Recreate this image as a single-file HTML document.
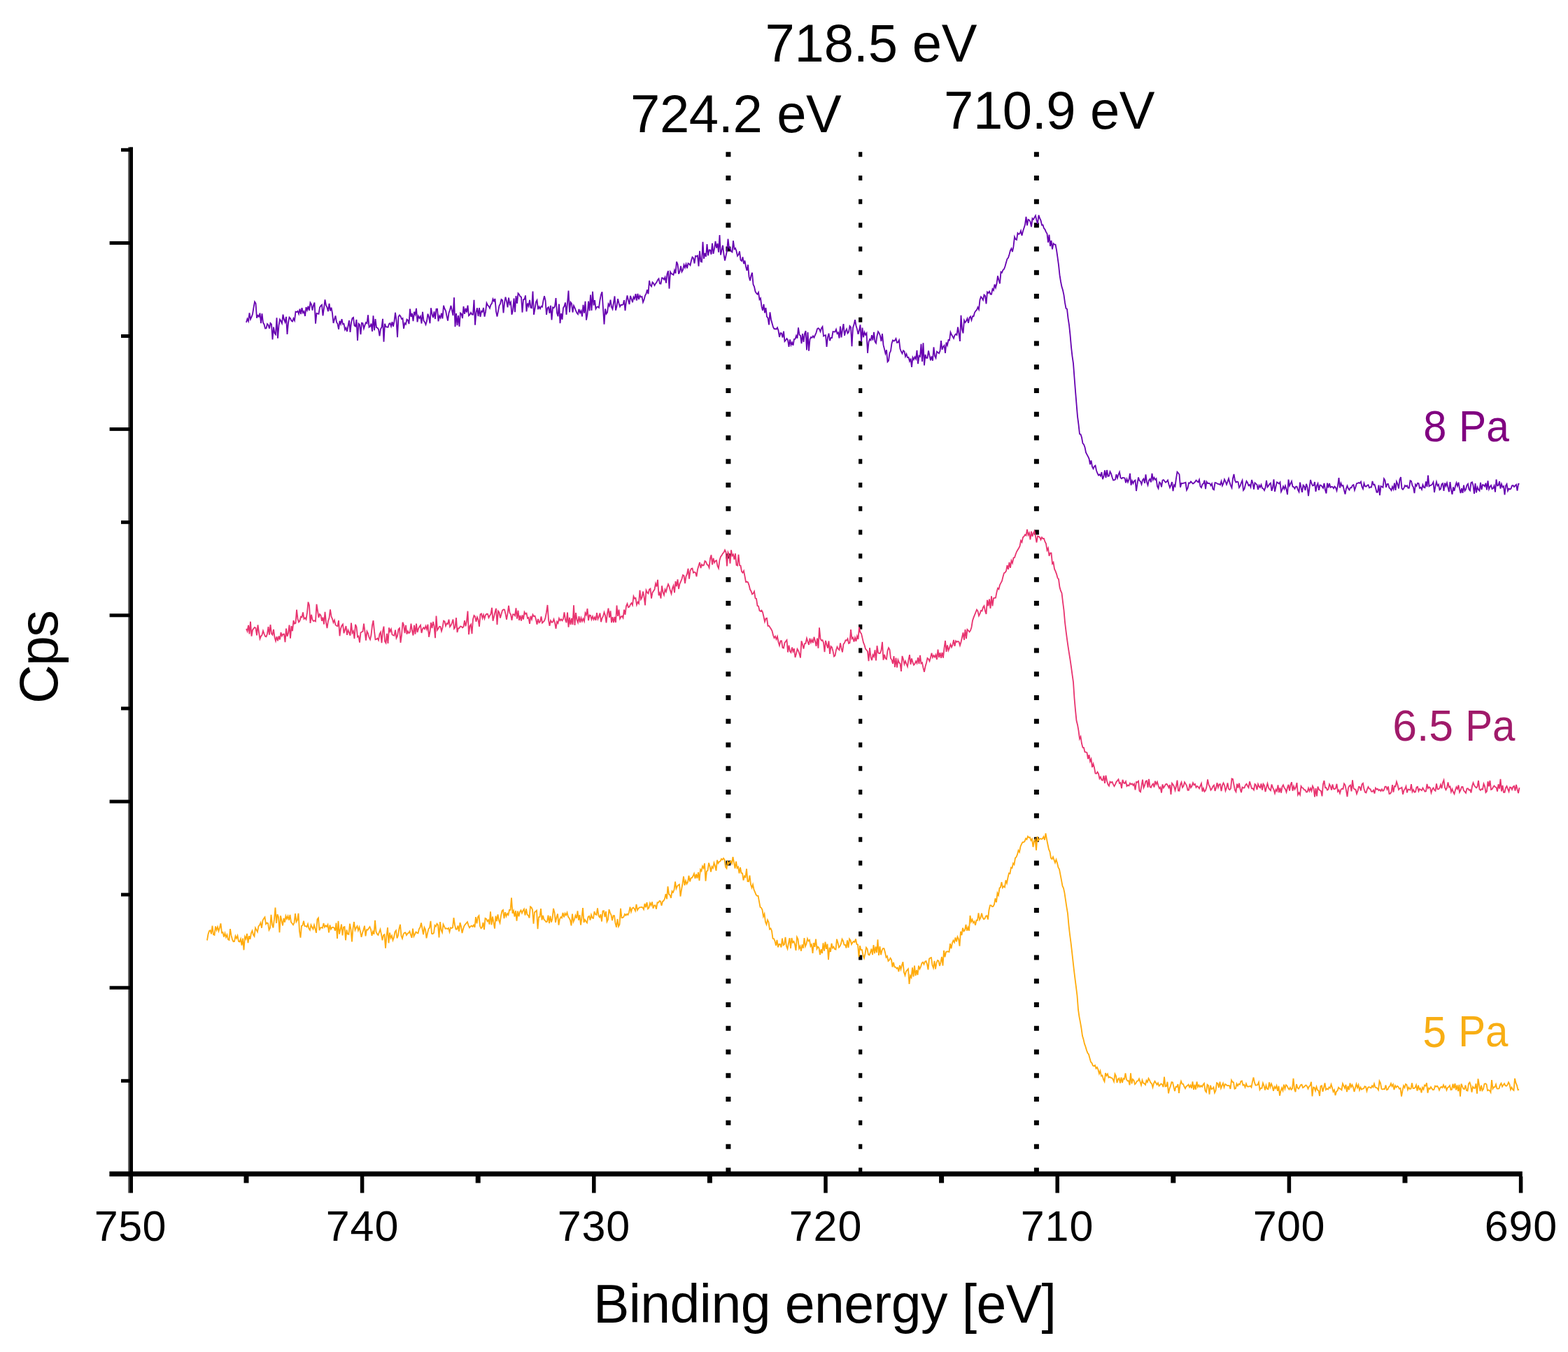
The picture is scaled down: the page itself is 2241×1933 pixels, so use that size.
<!DOCTYPE html>
<html><head><meta charset="utf-8"><title>XPS Fe 2p</title>
<style>
html,body{margin:0;padding:0;background:#fff;overflow:hidden;}
svg{display:block;}
text{font-family:"Liberation Sans",Arial,sans-serif;}
.t{font-size:64px;fill:#000;}
.b{font-size:77px;fill:#000;}
.l{font-size:63.5px;}
</style></head>
<body>
<svg width="2241" height="1933" viewBox="0 0 2241 1933">
<rect width="2241" height="1933" fill="#fff"/>
<rect x="183.00" y="210.30" width="1.80" height="1495.30" fill="#5f5f5f"/>
<rect x="184.80" y="210.30" width="5.20" height="1495.30" fill="#000"/>
<rect x="156.40" y="1674.80" width="2019.40" height="7.20" fill="#000"/>
<rect x="173.00" y="1542.80" width="12.00" height="5.00" fill="#000"/>
<rect x="156.60" y="1409.70" width="28.40" height="5.00" fill="#000"/>
<rect x="173.00" y="1276.60" width="12.00" height="5.00" fill="#000"/>
<rect x="156.60" y="1143.50" width="28.40" height="5.00" fill="#000"/>
<rect x="173.00" y="1010.40" width="12.00" height="5.00" fill="#000"/>
<rect x="156.60" y="877.30" width="28.40" height="5.00" fill="#000"/>
<rect x="173.00" y="744.20" width="12.00" height="5.00" fill="#000"/>
<rect x="156.60" y="611.10" width="28.40" height="5.00" fill="#000"/>
<rect x="173.00" y="478.00" width="12.00" height="5.00" fill="#000"/>
<rect x="156.60" y="344.90" width="28.40" height="5.00" fill="#000"/>
<rect x="173.00" y="211.80" width="12.00" height="5.00" fill="#000"/>
<rect x="348.50" y="1682.00" width="7.00" height="9.40" fill="#000"/>
<rect x="514.85" y="1682.00" width="5.50" height="23.60" fill="#000"/>
<rect x="679.70" y="1682.00" width="7.00" height="9.40" fill="#000"/>
<rect x="846.05" y="1682.00" width="5.50" height="23.60" fill="#000"/>
<rect x="1010.90" y="1682.00" width="7.00" height="9.40" fill="#000"/>
<rect x="1177.25" y="1682.00" width="5.50" height="23.60" fill="#000"/>
<rect x="1342.10" y="1682.00" width="7.00" height="9.40" fill="#000"/>
<rect x="1508.45" y="1682.00" width="5.50" height="23.60" fill="#000"/>
<rect x="1673.30" y="1682.00" width="7.00" height="9.40" fill="#000"/>
<rect x="1839.65" y="1682.00" width="5.50" height="23.60" fill="#000"/>
<rect x="2004.50" y="1682.00" width="7.00" height="9.40" fill="#000"/>
<rect x="2170.85" y="1682.00" width="5.50" height="23.60" fill="#000"/>
<line x1="1040.9" y1="217.3" x2="1040.9" y2="1675" stroke="#000" stroke-width="7" stroke-dasharray="7 26.77"/>
<line x1="1229.7" y1="217.3" x2="1229.7" y2="1675" stroke="#000" stroke-width="5.2" stroke-dasharray="7 26.77"/>
<line x1="1481.4" y1="217.3" x2="1481.4" y2="1675" stroke="#000" stroke-width="7" stroke-dasharray="7 26.77"/>
<path d="M352.0,461.1 353.5,455.8 355.0,459.2 356.5,447.3 358.0,456.4 359.5,453.2 361.0,449.0 362.5,439.9 364.0,431.4 365.5,433.8 367.0,454.8 368.5,450.9 370.0,452.6 371.5,447.7 373.0,462.1 374.5,448.4 376.0,461.3 377.5,463.7 379.0,469.6 380.5,469.5 382.0,463.1 383.5,464.8 385.0,469.7 386.5,461.9 388.0,463.6 389.5,485.5 391.0,467.6 392.5,476.7 394.0,478.3 395.5,454.4 397.0,483.7 398.5,465.2 400.0,456.6 401.5,459.0 403.0,462.2 404.5,449.6 406.0,456.9 407.5,460.5 409.0,452.8 410.5,477.9 412.0,461.5 413.5,453.6 415.0,455.3 416.5,458.7 418.0,459.6 419.5,455.2 421.0,458.3 422.5,445.5 424.0,446.2 425.5,444.8 427.0,448.8 428.5,441.8 430.0,449.0 431.5,440.1 433.0,447.2 434.5,445.1 436.0,452.0 437.5,439.2 439.0,443.6 440.5,437.8 442.0,444.0 443.5,432.7 445.0,435.1 446.5,443.7 448.0,436.5 449.5,432.6 451.0,462.6 452.5,447.9 454.0,448.4 455.5,448.8 457.0,439.5 458.5,437.2 460.0,435.9 461.5,451.4 463.0,440.4 464.5,428.4 466.0,436.7 467.5,439.4 469.0,445.2 470.5,434.0 472.0,444.4 473.5,439.7 475.0,447.8 476.5,461.9 478.0,456.5 479.5,451.5 481.0,460.4 482.5,463.0 484.0,470.8 485.5,458.8 487.0,463.2 488.5,456.1 490.0,463.5 491.5,462.9 493.0,471.3 494.5,468.6 496.0,473.9 497.5,466.0 499.0,458.2 500.5,474.9 502.0,461.1 503.5,455.0 505.0,453.9 506.5,465.6 508.0,466.6 509.5,457.0 511.0,487.0 512.5,462.7 514.0,464.2 515.5,478.2 517.0,461.6 518.5,462.1 520.0,469.6 521.5,464.9 523.0,461.0 524.5,462.3 526.0,450.4 527.5,467.8 529.0,466.6 530.5,462.6 532.0,473.9 533.5,451.3 535.0,472.3 536.5,456.1 538.0,468.3 539.5,468.7 541.0,470.9 542.5,480.3 544.0,470.5 545.5,467.8 547.0,455.8 548.5,488.6 550.0,462.7 551.5,467.2 553.0,467.5 554.5,467.9 556.0,463.1 557.5,462.2 559.0,466.6 560.5,460.2 562.0,466.7 563.5,459.4 565.0,446.9 566.5,458.1 568.0,482.1 569.5,452.8 571.0,450.5 572.5,452.3 574.0,456.2 575.5,455.1 577.0,469.8 578.5,461.9 580.0,463.6 581.5,456.6 583.0,457.7 584.5,463.1 586.0,441.5 587.5,452.9 589.0,448.1 590.5,459.2 592.0,445.9 593.5,449.8 595.0,440.9 596.5,460.4 598.0,451.8 599.5,454.9 601.0,452.3 602.5,462.5 604.0,445.9 605.5,458.6 607.0,460.5 608.5,464.1 610.0,459.1 611.5,448.7 613.0,453.3 614.5,462.3 616.0,440.3 617.5,449.2 619.0,454.1 620.5,445.4 622.0,456.0 623.5,441.9 625.0,441.8 626.5,459.4 628.0,451.7 629.5,454.4 631.0,447.8 632.5,455.5 634.0,436.9 635.5,441.5 637.0,444.2 638.5,451.8 640.0,458.6 641.5,447.4 643.0,443.3 644.5,437.0 646.0,444.0 647.5,451.1 649.0,425.2 650.5,467.3 652.0,448.1 653.5,465.1 655.0,451.1 656.5,466.9 658.0,447.5 659.5,448.7 661.0,455.1 662.5,438.0 664.0,448.9 665.5,440.7 667.0,446.6 668.5,436.7 670.0,451.3 671.5,449.8 673.0,446.9 674.5,449.6 676.0,449.7 677.5,428.7 679.0,464.7 680.5,446.4 682.0,440.3 683.5,452.2 685.0,440.0 686.5,453.0 688.0,444.8 689.5,445.9 691.0,440.0 692.5,452.7 694.0,445.9 695.5,433.3 697.0,436.5 698.5,437.8 700.0,440.6 701.5,435.7 703.0,433.9 704.5,427.5 706.0,430.6 707.5,427.1 709.0,445.2 710.5,452.6 712.0,444.8 713.5,437.0 715.0,434.4 716.5,428.1 718.0,429.2 719.5,447.5 721.0,432.8 722.5,424.7 724.0,430.6 725.5,439.3 727.0,425.6 728.5,434.9 730.0,432.1 731.5,449.8 733.0,443.9 734.5,426.6 736.0,446.1 737.5,423.1 739.0,434.0 740.5,419.4 742.0,421.0 743.5,424.1 745.0,424.6 746.5,446.7 748.0,428.2 749.5,427.9 751.0,422.4 752.5,445.4 754.0,433.6 755.5,437.8 757.0,428.8 758.5,439.9 760.0,440.3 761.5,416.6 763.0,449.9 764.5,441.4 766.0,431.9 767.5,429.1 769.0,442.3 770.5,438.4 772.0,441.4 773.5,438.0 775.0,438.8 776.5,429.7 778.0,423.2 779.5,429.3 781.0,450.0 782.5,440.3 784.0,439.1 785.5,447.9 787.0,436.8 788.5,457.4 790.0,439.5 791.5,440.3 793.0,438.0 794.5,426.0 796.0,447.3 797.5,452.3 799.0,434.7 800.5,462.1 802.0,448.2 803.5,456.8 805.0,440.2 806.5,437.8 808.0,432.6 809.5,449.9 811.0,432.5 812.5,415.6 814.0,446.5 815.5,431.9 817.0,434.0 818.5,446.7 820.0,437.1 821.5,440.2 823.0,444.2 824.5,447.6 826.0,449.3 827.5,441.9 829.0,447.2 830.5,444.2 832.0,452.5 833.5,435.9 835.0,447.6 836.5,430.8 838.0,457.7 839.5,449.4 841.0,430.7 842.5,444.4 844.0,421.6 845.5,443.9 847.0,416.7 848.5,436.7 850.0,429.1 851.5,441.6 853.0,439.0 854.5,438.5 856.0,439.9 857.5,429.0 859.0,421.3 860.5,417.4 862.0,441.4 863.5,463.6 865.0,441.5 866.5,448.8 868.0,446.7 869.5,434.7 871.0,437.5 872.5,428.6 874.0,438.9 875.5,442.0 877.0,432.9 878.5,423.5 880.0,443.7 881.5,437.8 883.0,427.3 884.5,433.4 886.0,438.5 887.5,435.8 889.0,436.1 890.5,435.4 892.0,429.2 893.5,444.1 895.0,430.4 896.5,422.4 898.0,429.8 899.5,435.1 901.0,422.9 902.5,427.6 904.0,432.3 905.5,424.6 907.0,427.3 908.5,420.2 910.0,429.7 911.5,419.9 913.0,428.0 914.5,422.6 916.0,424.7 917.5,424.0 919.0,432.1 920.5,428.4 922.0,422.6 923.5,419.9 925.0,414.2 926.5,420.3 928.0,401.3 929.5,407.7 931.0,409.6 932.5,403.5 934.0,405.1 935.5,408.1 937.0,405.4 938.5,403.5 940.0,400.2 941.5,398.4 943.0,405.4 944.5,405.7 946.0,397.2 947.5,397.5 949.0,399.6 950.5,396.2 952.0,404.6 953.5,391.6 955.0,387.2 956.5,412.8 958.0,388.7 959.5,391.2 961.0,391.9 962.5,393.0 964.0,386.3 965.5,390.9 967.0,374.2 968.5,377.7 970.0,391.7 971.5,388.0 973.0,380.4 974.5,388.6 976.0,386.0 977.5,378.6 979.0,382.6 980.5,377.6 982.0,383.5 983.5,376.5 985.0,377.5 986.5,379.3 988.0,372.6 989.5,367.6 991.0,368.9 992.5,376.5 994.0,366.0 995.5,366.6 997.0,365.6 998.5,380.6 1000.0,358.9 1001.5,373.9 1003.0,374.4 1004.5,345.9 1006.0,369.9 1007.5,361.9 1009.0,366.9 1010.5,349.0 1012.0,365.4 1013.5,357.3 1015.0,357.6 1016.5,363.7 1018.0,347.8 1019.5,362.8 1021.0,355.6 1022.5,345.0 1024.0,354.6 1025.5,348.1 1027.0,360.7 1028.5,336.0 1030.0,364.5 1031.5,357.9 1033.0,350.8 1034.5,363.6 1036.0,372.5 1037.5,365.7 1039.0,358.8 1040.5,341.6 1042.0,354.4 1043.5,354.7 1045.0,359.4 1046.5,360.4 1048.0,344.0 1049.5,356.0 1051.0,354.8 1052.5,359.0 1054.0,366.0 1055.5,364.1 1057.0,359.3 1058.5,371.9 1060.0,373.2 1061.5,367.5 1063.0,377.1 1064.5,372.6 1066.0,381.2 1067.5,386.9 1069.0,378.5 1070.5,395.7 1072.0,401.3 1073.5,394.1 1075.0,389.8 1076.5,406.7 1078.0,409.8 1079.5,416.8 1081.0,419.3 1082.5,420.7 1084.0,418.0 1085.5,428.2 1087.0,426.4 1088.5,438.2 1090.0,443.9 1091.5,434.8 1093.0,447.3 1094.5,440.0 1096.0,452.9 1097.5,454.5 1099.0,464.3 1100.5,446.4 1102.0,456.7 1103.5,462.2 1105.0,467.7 1106.5,470.2 1108.0,470.1 1109.5,470.7 1111.0,468.4 1112.5,472.8 1114.0,481.9 1115.5,476.1 1117.0,476.5 1118.5,482.6 1120.0,473.7 1121.5,488.0 1123.0,486.3 1124.5,484.1 1126.0,486.2 1127.5,495.8 1129.0,485.4 1130.5,493.3 1132.0,489.5 1133.5,493.8 1135.0,484.8 1136.5,484.6 1138.0,479.9 1139.5,483.6 1141.0,468.4 1142.5,478.8 1144.0,479.7 1145.5,491.2 1147.0,477.0 1148.5,488.9 1150.0,477.1 1151.5,473.1 1153.0,500.5 1154.5,475.1 1156.0,501.6 1157.5,485.2 1159.0,482.1 1160.5,482.9 1162.0,480.4 1163.5,482.6 1165.0,479.0 1166.5,475.8 1168.0,470.2 1169.5,469.1 1171.0,470.5 1172.5,474.1 1174.0,469.3 1175.5,467.1 1177.0,480.5 1178.5,479.5 1180.0,479.2 1181.5,495.9 1183.0,482.1 1184.5,476.7 1186.0,487.2 1187.5,483.0 1189.0,483.0 1190.5,474.1 1192.0,474.4 1193.5,474.5 1195.0,470.9 1196.5,476.9 1198.0,475.3 1199.5,483.5 1201.0,466.7 1202.5,482.3 1204.0,471.2 1205.5,463.1 1207.0,479.9 1208.5,473.2 1210.0,470.4 1211.5,476.6 1213.0,474.7 1214.5,466.1 1216.0,467.8 1217.5,495.3 1219.0,468.7 1220.5,464.1 1222.0,457.2 1223.5,465.7 1225.0,470.6 1226.5,477.8 1228.0,472.1 1229.5,464.3 1231.0,488.8 1232.5,468.5 1234.0,482.2 1235.5,474.9 1237.0,478.7 1238.5,476.3 1240.0,504.8 1241.5,489.3 1243.0,484.9 1244.5,486.4 1246.0,479.2 1247.5,486.5 1249.0,474.9 1250.5,488.5 1252.0,490.7 1253.5,480.2 1255.0,474.2 1256.5,476.3 1258.0,480.2 1259.5,488.0 1261.0,477.1 1262.5,493.2 1264.0,499.1 1265.5,505.4 1267.0,500.3 1268.5,517.3 1270.0,515.5 1271.5,504.7 1273.0,501.8 1274.5,491.0 1276.0,486.5 1277.5,487.6 1279.0,486.8 1280.5,484.1 1282.0,489.8 1283.5,489.4 1285.0,486.4 1286.5,498.8 1288.0,502.7 1289.5,505.5 1291.0,501.2 1292.5,502.5 1294.0,509.7 1295.5,506.2 1297.0,511.2 1298.5,510.9 1300.0,516.4 1301.5,512.6 1303.0,524.8 1304.5,511.0 1306.0,514.0 1307.5,510.4 1309.0,513.2 1310.5,500.8 1312.0,520.2 1313.5,508.6 1315.0,509.8 1316.5,491.9 1318.0,516.9 1319.5,490.3 1321.0,522.5 1322.5,506.9 1324.0,511.9 1325.5,511.8 1327.0,501.4 1328.5,508.4 1330.0,515.2 1331.5,509.4 1333.0,515.7 1334.5,496.3 1336.0,508.9 1337.5,511.9 1339.0,502.7 1340.5,503.9 1342.0,505.2 1343.5,501.8 1345.0,487.1 1346.5,499.9 1348.0,495.8 1349.5,494.0 1351.0,504.9 1352.5,489.5 1354.0,493.7 1355.5,486.0 1357.0,486.6 1358.5,475.0 1360.0,478.6 1361.5,481.0 1363.0,483.8 1364.5,479.4 1366.0,477.6 1367.5,478.9 1369.0,467.7 1370.5,477.1 1372.0,488.0 1373.5,450.9 1375.0,470.6 1376.5,476.4 1378.0,458.0 1379.5,461.0 1381.0,458.9 1382.5,455.3 1384.0,461.7 1385.5,454.4 1387.0,452.4 1388.5,457.7 1390.0,452.1 1391.5,452.2 1393.0,446.8 1394.5,444.5 1396.0,443.0 1397.5,439.3 1399.0,442.5 1400.5,428.6 1402.0,424.3 1403.5,426.2 1405.0,428.9 1406.5,421.6 1408.0,423.0 1409.5,434.4 1411.0,417.6 1412.5,419.1 1414.0,416.7 1415.5,420.6 1417.0,420.7 1418.5,413.1 1420.0,415.0 1421.5,406.6 1423.0,411.3 1424.5,405.5 1426.0,394.4 1427.5,400.7 1429.0,405.5 1430.5,388.7 1432.0,389.6 1433.5,386.0 1435.0,384.7 1436.5,380.8 1438.0,375.2 1439.5,370.1 1441.0,368.5 1442.5,363.7 1444.0,358.2 1445.5,355.3 1447.0,360.0 1448.5,352.4 1450.0,338.7 1451.5,342.0 1453.0,342.8 1454.5,333.2 1456.0,334.9 1457.5,334.0 1459.0,330.0 1460.5,336.9 1462.0,330.5 1463.5,326.0 1465.0,321.3 1466.5,309.9 1468.0,322.4 1469.5,313.8 1471.0,314.6 1472.5,317.0 1474.0,324.4 1475.5,312.3 1477.0,313.8 1478.5,310.9 1480.0,308.3 1481.5,314.9 1483.0,319.9 1484.5,307.6 1486.0,312.0 1487.5,315.1 1489.0,321.8 1490.5,321.5 1492.0,326.4 1493.5,328.1 1495.0,331.6 1496.5,334.1 1498.0,346.6 1499.5,335.5 1501.0,352.0 1502.5,343.9 1504.0,356.3 1505.5,348.1 1507.0,349.7 1508.5,349.7 1510.0,357.3 1511.5,367.8 1513.0,378.8 1514.5,393.2 1516.0,402.5 1517.5,410.1 1519.0,414.7 1520.5,421.9 1522.0,432.7 1523.5,440.9 1525.0,441.7 1526.5,454.8 1528.0,464.5 1529.5,478.7 1531.0,496.0 1532.5,509.4 1534.0,519.7 1535.5,539.8 1537.0,559.1 1538.5,577.4 1540.0,595.3 1541.5,606.8 1543.0,620.5 1544.5,620.9 1546.0,625.5 1547.5,633.9 1549.0,635.4 1550.5,639.4 1552.0,646.9 1553.5,649.8 1555.0,652.6 1556.5,655.8 1558.0,664.0 1559.5,658.3 1561.0,667.1 1562.5,670.1 1564.0,666.9 1565.5,665.6 1567.0,672.8 1568.5,676.7 1570.0,679.5 1571.5,678.3 1573.0,680.6 1574.5,675.1 1576.0,685.1 1577.5,680.7 1579.0,672.3 1580.5,683.2 1582.0,672.0 1583.5,680.9 1585.0,680.5 1586.5,674.2 1588.0,677.1 1589.5,682.3 1591.0,686.6 1592.5,686.4 1594.0,685.5 1595.5,678.2 1597.0,683.5 1598.5,678.5 1600.0,674.9 1601.5,683.0 1603.0,684.3 1604.5,683.0 1606.0,683.2 1607.5,683.3 1609.0,690.2 1610.5,684.8 1612.0,689.3 1613.5,685.6 1615.0,676.9 1616.5,693.7 1618.0,687.4 1619.5,691.1 1621.0,687.7 1622.5,686.6 1624.0,702.0 1625.5,691.7 1627.0,682.4 1628.5,687.3 1630.0,688.3 1631.5,692.4 1633.0,686.3 1634.5,684.4 1636.0,690.8 1637.5,678.3 1639.0,689.2 1640.5,693.6 1642.0,686.6 1643.5,684.8 1645.0,689.4 1646.5,676.8 1648.0,686.0 1649.5,682.9 1651.0,686.0 1652.5,684.3 1654.0,695.3 1655.5,698.4 1657.0,689.3 1658.5,690.5 1660.0,696.4 1661.5,686.6 1663.0,686.0 1664.5,688.0 1666.0,689.7 1667.5,688.6 1669.0,686.6 1670.5,692.5 1672.0,697.2 1673.5,693.6 1675.0,689.1 1676.5,702.1 1678.0,693.2 1679.5,695.3 1681.0,683.9 1682.5,674.6 1684.0,676.2 1685.5,678.5 1687.0,696.8 1688.5,690.9 1690.0,691.3 1691.5,690.6 1693.0,690.4 1694.5,689.8 1696.0,700.6 1697.5,697.9 1699.0,690.4 1700.5,690.8 1702.0,688.5 1703.5,690.1 1705.0,691.6 1706.5,690.5 1708.0,688.9 1709.5,686.7 1711.0,688.1 1712.5,689.4 1714.0,685.8 1715.5,695.3 1717.0,697.2 1718.5,692.3 1720.0,691.4 1721.5,686.7 1723.0,699.1 1724.5,688.7 1726.0,691.0 1727.5,690.8 1729.0,691.2 1730.5,694.3 1732.0,691.4 1733.5,699.3 1735.0,700.2 1736.5,690.0 1738.0,690.3 1739.5,691.3 1741.0,692.1 1742.5,692.1 1744.0,693.3 1745.5,688.1 1747.0,694.4 1748.5,690.9 1750.0,685.4 1751.5,688.5 1753.0,692.6 1754.5,688.6 1756.0,684.1 1757.5,689.9 1759.0,694.3 1760.5,697.5 1762.0,683.9 1763.5,678.0 1765.0,686.9 1766.5,689.7 1768.0,688.6 1769.5,689.1 1771.0,697.1 1772.5,694.7 1774.0,690.3 1775.5,686.8 1777.0,701.0 1778.5,699.2 1780.0,692.8 1781.5,687.9 1783.0,690.2 1784.5,694.2 1786.0,693.0 1787.5,696.5 1789.0,686.1 1790.5,690.9 1792.0,699.5 1793.5,690.3 1795.0,691.7 1796.5,693.0 1798.0,700.1 1799.5,693.9 1801.0,696.7 1802.5,693.0 1804.0,697.9 1805.5,698.6 1807.0,701.1 1808.5,697.1 1810.0,687.0 1811.5,696.3 1813.0,694.4 1814.5,691.8 1816.0,690.6 1817.5,701.8 1819.0,697.3 1820.5,685.3 1822.0,702.9 1823.5,695.6 1825.0,689.4 1826.5,690.3 1828.0,691.6 1829.5,689.5 1831.0,703.0 1832.5,699.8 1834.0,695.4 1835.5,699.1 1837.0,694.6 1838.5,699.7 1840.0,707.1 1841.5,685.6 1843.0,694.6 1844.5,691.4 1846.0,688.1 1847.5,695.7 1849.0,696.2 1850.5,698.6 1852.0,695.6 1853.5,695.7 1855.0,700.4 1856.5,703.3 1858.0,689.7 1859.5,697.2 1861.0,703.9 1862.5,693.7 1864.0,695.3 1865.5,701.0 1867.0,691.8 1868.5,696.4 1870.0,709.1 1871.5,697.2 1873.0,686.1 1874.5,691.2 1876.0,694.4 1877.5,694.0 1879.0,689.1 1880.5,702.8 1882.0,694.4 1883.5,691.2 1885.0,700.8 1886.5,693.6 1888.0,693.9 1889.5,695.8 1891.0,697.8 1892.5,690.9 1894.0,700.6 1895.5,705.4 1897.0,690.7 1898.5,697.2 1900.0,691.1 1901.5,696.9 1903.0,695.9 1904.5,696.1 1906.0,698.3 1907.5,695.6 1909.0,697.2 1910.5,701.6 1912.0,694.4 1913.5,683.2 1915.0,697.5 1916.5,690.8 1918.0,694.8 1919.5,694.0 1921.0,700.8 1922.5,706.5 1924.0,698.5 1925.5,694.6 1927.0,698.6 1928.5,700.5 1930.0,697.2 1931.5,697.3 1933.0,693.8 1934.5,693.0 1936.0,700.7 1937.5,696.2 1939.0,691.0 1940.5,690.9 1942.0,690.1 1943.5,690.9 1945.0,688.7 1946.5,695.9 1948.0,698.9 1949.5,690.9 1951.0,695.2 1952.5,695.7 1954.0,693.9 1955.5,693.2 1957.0,697.4 1958.5,696.5 1960.0,696.5 1961.5,687.9 1963.0,693.2 1964.5,692.7 1966.0,697.5 1967.5,703.8 1969.0,703.6 1970.5,693.6 1972.0,708.1 1973.5,695.1 1975.0,695.7 1976.5,696.9 1978.0,684.4 1979.5,686.9 1981.0,696.8 1982.5,692.0 1984.0,691.9 1985.5,697.5 1987.0,698.8 1988.5,701.1 1990.0,696.0 1991.5,699.6 1993.0,690.7 1994.5,700.9 1996.0,688.6 1997.5,691.9 1999.0,698.5 2000.5,685.8 2002.0,682.2 2003.5,698.4 2005.0,699.9 2006.5,697.8 2008.0,694.0 2009.5,695.5 2011.0,694.2 2012.5,697.7 2014.0,697.6 2015.5,687.1 2017.0,687.9 2018.5,694.2 2020.0,696.6 2021.5,705.2 2023.0,692.7 2024.5,694.9 2026.0,690.7 2027.5,691.0 2029.0,698.0 2030.5,696.8 2032.0,699.8 2033.5,693.2 2035.0,696.7 2036.5,697.2 2038.0,688.5 2039.5,695.8 2041.0,679.7 2042.5,695.3 2044.0,694.1 2045.5,693.7 2047.0,692.3 2048.5,689.2 2050.0,704.0 2051.5,694.9 2053.0,688.9 2054.5,694.5 2056.0,692.8 2057.5,700.3 2059.0,699.1 2060.5,692.2 2062.0,691.1 2063.5,701.8 2065.0,690.5 2066.5,694.9 2068.0,690.4 2069.5,697.1 2071.0,703.2 2072.5,689.0 2074.0,700.7 2075.5,706.8 2077.0,696.5 2078.5,701.9 2080.0,695.1 2081.5,690.3 2083.0,695.0 2084.5,689.7 2086.0,698.4 2087.5,705.1 2089.0,698.3 2090.5,704.9 2092.0,693.7 2093.5,701.8 2095.0,699.6 2096.5,693.7 2098.0,691.9 2099.5,699.6 2101.0,701.4 2102.5,690.1 2104.0,689.3 2105.5,694.3 2107.0,706.0 2108.5,691.0 2110.0,704.3 2111.5,696.5 2113.0,699.9 2114.5,701.7 2116.0,689.8 2117.5,700.0 2119.0,693.1 2120.5,693.5 2122.0,695.4 2123.5,690.7 2125.0,700.3 2126.5,687.3 2128.0,699.4 2129.5,695.9 2131.0,694.0 2132.5,699.1 2134.0,698.2 2135.5,694.5 2137.0,703.5 2138.5,685.5 2140.0,694.4 2141.5,694.1 2143.0,688.1 2144.5,698.5 2146.0,692.0 2147.5,696.5 2149.0,695.2 2150.5,707.5 2152.0,694.5 2153.5,692.1 2155.0,701.8 2156.5,698.6 2158.0,699.6 2159.5,698.6 2161.0,694.4 2162.5,694.1 2164.0,696.1 2165.5,694.3 2167.0,692.9 2168.5,701.6 2170.0,692.0 2171.5,691.7" fill="none" stroke="#6600b0" stroke-width="1.8" stroke-linejoin="miter"/>
<path d="M352.0,899.0 353.5,902.5 355.0,893.8 356.5,906.3 358.0,888.7 359.5,909.7 361.0,900.6 362.5,898.7 364.0,897.0 365.5,898.0 367.0,908.3 368.5,893.5 370.0,904.1 371.5,913.4 373.0,909.6 374.5,907.9 376.0,901.9 377.5,906.3 379.0,909.8 380.5,910.4 382.0,906.2 383.5,896.1 385.0,907.7 386.5,893.0 388.0,906.0 389.5,907.8 391.0,899.8 392.5,911.1 394.0,916.4 395.5,910.1 397.0,916.4 398.5,909.4 400.0,914.4 401.5,904.2 403.0,909.3 404.5,906.6 406.0,906.6 407.5,918.1 409.0,898.6 410.5,909.9 412.0,905.1 413.5,893.5 415.0,912.7 416.5,895.2 418.0,902.2 419.5,887.1 421.0,891.8 422.5,891.0 424.0,871.7 425.5,884.9 427.0,889.4 428.5,887.5 430.0,881.7 431.5,882.5 433.0,875.5 434.5,884.8 436.0,883.3 437.5,885.5 439.0,875.9 440.5,860.7 442.0,865.5 443.5,890.9 445.0,878.8 446.5,885.9 448.0,888.0 449.5,887.3 451.0,888.3 452.5,863.9 454.0,873.3 455.5,883.0 457.0,878.1 458.5,879.8 460.0,887.8 461.5,882.6 463.0,892.5 464.5,874.9 466.0,889.9 467.5,898.2 469.0,887.9 470.5,883.5 472.0,871.3 473.5,881.3 475.0,884.8 476.5,890.0 478.0,886.6 479.5,893.4 481.0,894.8 482.5,895.3 484.0,887.1 485.5,909.3 487.0,898.6 488.5,894.5 490.0,892.5 491.5,905.3 493.0,900.4 494.5,895.1 496.0,907.8 497.5,901.0 499.0,904.4 500.5,908.7 502.0,890.6 503.5,904.9 505.0,902.2 506.5,913.2 508.0,892.8 509.5,896.2 511.0,910.6 512.5,909.6 514.0,918.6 515.5,904.5 517.0,903.5 518.5,902.8 520.0,891.6 521.5,903.3 523.0,915.6 524.5,902.6 526.0,905.6 527.5,911.3 529.0,914.3 530.5,907.8 532.0,894.1 533.5,887.1 535.0,902.4 536.5,914.4 538.0,913.9 539.5,912.6 541.0,915.3 542.5,906.5 544.0,903.8 545.5,919.1 547.0,902.9 548.5,895.6 550.0,917.0 551.5,919.3 553.0,905.8 554.5,920.0 556.0,897.4 557.5,903.0 559.0,899.6 560.5,907.5 562.0,908.2 563.5,908.8 565.0,900.6 566.5,912.4 568.0,909.2 569.5,899.7 571.0,898.1 572.5,919.0 574.0,908.2 575.5,889.7 577.0,893.5 578.5,905.2 580.0,893.8 581.5,906.7 583.0,902.5 584.5,905.3 586.0,903.7 587.5,891.6 589.0,901.8 590.5,908.5 592.0,893.9 593.5,906.6 595.0,891.6 596.5,904.1 598.0,898.9 599.5,895.9 601.0,893.9 602.5,905.0 604.0,899.1 605.5,897.3 607.0,899.4 608.5,895.0 610.0,899.7 611.5,892.7 613.0,910.8 614.5,903.3 616.0,890.2 617.5,898.1 619.0,888.9 620.5,895.1 622.0,912.1 623.5,880.6 625.0,900.8 626.5,898.6 628.0,895.7 629.5,896.0 631.0,902.3 632.5,897.3 634.0,887.6 635.5,888.4 637.0,894.8 638.5,891.3 640.0,892.2 641.5,885.7 643.0,896.2 644.5,894.0 646.0,890.5 647.5,885.6 649.0,898.9 650.5,896.9 652.0,883.2 653.5,904.1 655.0,898.3 656.5,898.0 658.0,895.4 659.5,895.7 661.0,897.5 662.5,896.1 664.0,887.2 665.5,895.3 667.0,888.1 668.5,873.7 670.0,907.1 671.5,895.1 673.0,892.8 674.5,906.1 676.0,885.5 677.5,880.0 679.0,881.4 680.5,888.7 682.0,882.4 683.5,886.1 685.0,895.8 686.5,878.4 688.0,877.5 689.5,883.9 691.0,879.0 692.5,884.4 694.0,879.3 695.5,877.8 697.0,877.9 698.5,883.1 700.0,880.3 701.5,878.0 703.0,868.9 704.5,887.8 706.0,881.8 707.5,875.3 709.0,869.9 710.5,893.1 712.0,873.7 713.5,875.6 715.0,883.6 716.5,877.9 718.0,872.8 719.5,871.4 721.0,871.5 722.5,877.7 724.0,885.8 725.5,877.2 727.0,865.8 728.5,876.1 730.0,878.6 731.5,886.9 733.0,878.3 734.5,878.3 736.0,880.2 737.5,869.4 739.0,884.7 740.5,872.8 742.0,886.9 743.5,880.0 745.0,887.6 746.5,879.4 748.0,885.5 749.5,875.1 751.0,877.8 752.5,876.7 754.0,884.0 755.5,883.0 757.0,891.9 758.5,880.9 760.0,885.4 761.5,878.7 763.0,881.2 764.5,880.6 766.0,885.5 767.5,892.8 769.0,885.0 770.5,890.2 772.0,888.8 773.5,881.5 775.0,890.7 776.5,889.2 778.0,887.6 779.5,883.2 781.0,875.2 782.5,865.0 784.0,886.4 785.5,894.9 787.0,887.2 788.5,889.8 790.0,889.5 791.5,885.3 793.0,890.2 794.5,898.8 796.0,888.8 797.5,891.0 799.0,884.0 800.5,887.3 802.0,885.2 803.5,887.4 805.0,884.9 806.5,875.3 808.0,886.1 809.5,890.3 811.0,875.5 812.5,896.6 814.0,882.8 815.5,893.2 817.0,883.8 818.5,893.1 820.0,865.2 821.5,893.9 823.0,876.1 824.5,886.1 826.0,890.1 827.5,881.2 829.0,890.1 830.5,883.5 832.0,888.3 833.5,884.7 835.0,888.3 836.5,876.3 838.0,879.2 839.5,870.2 841.0,887.2 842.5,879.5 844.0,880.0 845.5,885.6 847.0,881.3 848.5,885.7 850.0,882.4 851.5,886.9 853.0,876.2 854.5,885.1 856.0,881.8 857.5,876.5 859.0,889.2 860.5,883.8 862.0,881.0 863.5,875.3 865.0,879.8 866.5,890.3 868.0,877.2 869.5,869.6 871.0,882.8 872.5,873.4 874.0,890.2 875.5,882.2 877.0,890.2 878.5,882.0 880.0,890.0 881.5,865.6 883.0,880.8 884.5,871.7 886.0,884.6 887.5,881.9 889.0,880.8 890.5,883.5 892.0,871.6 893.5,878.9 895.0,866.6 896.5,863.1 898.0,868.2 899.5,867.6 901.0,864.1 902.5,862.2 904.0,865.2 905.5,852.5 907.0,855.8 908.5,855.1 910.0,864.8 911.5,860.8 913.0,863.0 914.5,843.9 916.0,856.8 917.5,854.1 919.0,845.6 920.5,852.9 922.0,865.5 923.5,843.9 925.0,847.1 926.5,848.5 928.0,842.7 929.5,841.6 931.0,855.7 932.5,847.2 934.0,844.9 935.5,842.8 937.0,834.4 938.5,838.7 940.0,828.8 941.5,851.3 943.0,847.6 944.5,855.6 946.0,837.5 947.5,846.7 949.0,850.7 950.5,842.7 952.0,846.0 953.5,839.7 955.0,835.2 956.5,838.6 958.0,844.6 959.5,848.9 961.0,840.9 962.5,837.2 964.0,847.3 965.5,831.2 967.0,838.3 968.5,828.4 970.0,842.2 971.5,834.5 973.0,831.4 974.5,827.8 976.0,822.1 977.5,823.1 979.0,834.2 980.5,824.2 982.0,820.4 983.5,812.8 985.0,827.6 986.5,816.2 988.0,813.0 989.5,812.6 991.0,818.9 992.5,818.0 994.0,818.6 995.5,824.3 997.0,814.2 998.5,809.0 1000.0,803.9 1001.5,812.2 1003.0,807.1 1004.5,808.7 1006.0,807.8 1007.5,802.1 1009.0,803.2 1010.5,807.1 1012.0,808.2 1013.5,811.6 1015.0,798.5 1016.5,793.4 1018.0,807.4 1019.5,797.9 1021.0,804.4 1022.5,801.9 1024.0,801.3 1025.5,809.2 1027.0,812.5 1028.5,800.7 1030.0,796.0 1031.5,794.1 1033.0,791.4 1034.5,789.8 1036.0,786.4 1037.5,789.6 1039.0,809.4 1040.5,789.7 1042.0,792.9 1043.5,805.7 1045.0,786.3 1046.5,794.6 1048.0,792.6 1049.5,800.0 1051.0,791.4 1052.5,808.0 1054.0,808.7 1055.5,792.9 1057.0,808.3 1058.5,808.8 1060.0,817.0 1061.5,818.9 1063.0,816.1 1064.5,823.8 1066.0,832.1 1067.5,831.8 1069.0,832.4 1070.5,836.6 1072.0,842.8 1073.5,845.2 1075.0,849.5 1076.5,848.5 1078.0,845.6 1079.5,855.4 1081.0,855.9 1082.5,866.1 1084.0,866.6 1085.5,873.1 1087.0,873.9 1088.5,872.7 1090.0,875.3 1091.5,881.8 1093.0,888.8 1094.5,884.2 1096.0,883.9 1097.5,894.9 1099.0,894.7 1100.5,897.0 1102.0,899.3 1103.5,902.0 1105.0,908.3 1106.5,912.1 1108.0,909.8 1109.5,914.0 1111.0,910.1 1112.5,918.0 1114.0,922.9 1115.5,916.4 1117.0,916.2 1118.5,926.0 1120.0,926.6 1121.5,919.2 1123.0,917.0 1124.5,915.1 1126.0,932.5 1127.5,922.7 1129.0,931.1 1130.5,933.0 1132.0,925.6 1133.5,931.4 1135.0,927.4 1136.5,939.9 1138.0,934.7 1139.5,927.8 1141.0,930.3 1142.5,934.7 1144.0,940.4 1145.5,916.4 1147.0,921.2 1148.5,927.6 1150.0,920.3 1151.5,919.8 1153.0,912.6 1154.5,917.3 1156.0,921.9 1157.5,912.7 1159.0,918.6 1160.5,914.7 1162.0,919.1 1163.5,910.7 1165.0,916.5 1166.5,923.8 1168.0,912.6 1169.5,926.8 1171.0,897.4 1172.5,913.2 1174.0,915.8 1175.5,915.2 1177.0,919.0 1178.5,932.1 1180.0,915.9 1181.5,921.6 1183.0,926.5 1184.5,916.5 1186.0,935.0 1187.5,924.1 1189.0,925.5 1190.5,930.9 1192.0,938.6 1193.5,937.2 1195.0,929.4 1196.5,924.9 1198.0,927.8 1199.5,929.3 1201.0,919.4 1202.5,926.8 1204.0,932.5 1205.5,921.0 1207.0,919.0 1208.5,915.3 1210.0,915.7 1211.5,913.2 1213.0,919.9 1214.5,919.1 1216.0,900.1 1217.5,913.2 1219.0,911.5 1220.5,917.6 1222.0,911.6 1223.5,916.9 1225.0,909.5 1226.5,914.0 1228.0,896.7 1229.5,904.2 1231.0,905.9 1232.5,912.1 1234.0,918.7 1235.5,922.2 1237.0,927.8 1238.5,929.3 1240.0,931.6 1241.5,945.1 1243.0,926.2 1244.5,939.4 1246.0,944.1 1247.5,936.2 1249.0,938.8 1250.5,929.3 1252.0,944.5 1253.5,923.2 1255.0,933.2 1256.5,934.2 1258.0,933.7 1259.5,929.6 1261.0,917.8 1262.5,943.7 1264.0,935.8 1265.5,941.5 1267.0,942.5 1268.5,930.5 1270.0,926.2 1271.5,928.9 1273.0,941.2 1274.5,943.3 1276.0,949.0 1277.5,938.1 1279.0,954.0 1280.5,940.5 1282.0,954.3 1283.5,943.6 1285.0,947.4 1286.5,948.7 1288.0,960.0 1289.5,937.9 1291.0,942.7 1292.5,949.7 1294.0,945.2 1295.5,949.3 1297.0,953.0 1298.5,943.5 1300.0,936.1 1301.5,950.0 1303.0,941.4 1304.5,946.9 1306.0,950.8 1307.5,949.1 1309.0,945.4 1310.5,948.3 1312.0,940.2 1313.5,949.1 1315.0,936.9 1316.5,948.5 1318.0,947.3 1319.5,954.9 1321.0,960.7 1322.5,952.8 1324.0,947.8 1325.5,940.9 1327.0,942.3 1328.5,945.3 1330.0,940.3 1331.5,933.7 1333.0,940.0 1334.5,937.1 1336.0,939.5 1337.5,936.1 1339.0,943.0 1340.5,928.7 1342.0,940.0 1343.5,933.2 1345.0,940.9 1346.5,932.8 1348.0,940.7 1349.5,926.6 1351.0,916.0 1352.5,931.8 1354.0,922.4 1355.5,929.9 1357.0,926.1 1358.5,921.3 1360.0,925.4 1361.5,921.9 1363.0,915.0 1364.5,923.9 1366.0,916.3 1367.5,917.8 1369.0,917.0 1370.5,917.7 1372.0,922.9 1373.5,918.0 1375.0,911.3 1376.5,904.5 1378.0,915.0 1379.5,900.0 1381.0,913.1 1382.5,900.0 1384.0,901.5 1385.5,903.5 1387.0,901.4 1388.5,896.7 1390.0,887.3 1391.5,882.9 1393.0,879.1 1394.5,875.5 1396.0,871.7 1397.5,873.8 1399.0,880.4 1400.5,877.3 1402.0,873.0 1403.5,873.5 1405.0,868.3 1406.5,866.2 1408.0,873.6 1409.5,877.9 1411.0,857.9 1412.5,866.4 1414.0,856.7 1415.5,870.0 1417.0,852.3 1418.5,866.3 1420.0,855.3 1421.5,854.8 1423.0,854.7 1424.5,846.6 1426.0,840.9 1427.5,842.3 1429.0,836.2 1430.5,833.4 1432.0,830.6 1433.5,824.5 1435.0,819.3 1436.5,818.5 1438.0,816.3 1439.5,808.2 1441.0,814.1 1442.5,803.8 1444.0,811.8 1445.5,801.5 1447.0,805.0 1448.5,797.5 1450.0,797.2 1451.5,792.8 1453.0,788.8 1454.5,786.2 1456.0,783.7 1457.5,780.9 1459.0,772.9 1460.5,775.2 1462.0,768.3 1463.5,766.9 1465.0,764.4 1466.5,765.6 1468.0,756.9 1469.5,764.9 1471.0,761.9 1472.5,771.5 1474.0,759.8 1475.5,767.1 1477.0,762.0 1478.5,759.4 1480.0,766.9 1481.5,775.7 1483.0,766.6 1484.5,767.1 1486.0,768.2 1487.5,771.7 1489.0,768.3 1490.5,770.1 1492.0,769.9 1493.5,774.5 1495.0,777.3 1496.5,786.8 1498.0,783.6 1499.5,795.0 1501.0,790.6 1502.5,790.7 1504.0,805.8 1505.5,803.9 1507.0,813.5 1508.5,816.7 1510.0,820.6 1511.5,826.2 1513.0,828.2 1514.5,839.5 1516.0,844.7 1517.5,848.0 1519.0,860.7 1520.5,872.4 1522.0,889.5 1523.5,902.2 1525.0,913.7 1526.5,924.1 1528.0,933.8 1529.5,943.1 1531.0,953.7 1532.5,964.7 1534.0,975.3 1535.5,998.2 1537.0,1015.3 1538.5,1030.3 1540.0,1036.2 1541.5,1044.6 1543.0,1056.4 1544.5,1053.2 1546.0,1063.1 1547.5,1068.7 1549.0,1069.1 1550.5,1075.2 1552.0,1075.4 1553.5,1076.1 1555.0,1085.0 1556.5,1079.2 1558.0,1088.6 1559.5,1085.1 1561.0,1097.1 1562.5,1092.0 1564.0,1097.4 1565.5,1105.8 1567.0,1106.1 1568.5,1103.8 1570.0,1106.4 1571.5,1113.2 1573.0,1110.9 1574.5,1115.3 1576.0,1115.7 1577.5,1109.0 1579.0,1119.9 1580.5,1108.6 1582.0,1116.4 1583.5,1121.6 1585.0,1123.6 1586.5,1117.6 1588.0,1118.9 1589.5,1117.9 1591.0,1121.4 1592.5,1124.2 1594.0,1121.4 1595.5,1117.8 1597.0,1116.1 1598.5,1114.2 1600.0,1120.1 1601.5,1119.0 1603.0,1127.1 1604.5,1114.9 1606.0,1119.3 1607.5,1120.0 1609.0,1117.2 1610.5,1123.9 1612.0,1122.5 1613.5,1123.5 1615.0,1119.7 1616.5,1121.6 1618.0,1120.4 1619.5,1122.9 1621.0,1120.7 1622.5,1129.3 1624.0,1118.1 1625.5,1118.4 1627.0,1116.8 1628.5,1130.8 1630.0,1132.2 1631.5,1123.3 1633.0,1114.7 1634.5,1126.3 1636.0,1122.9 1637.5,1116.9 1639.0,1116.3 1640.5,1125.8 1642.0,1113.9 1643.5,1125.0 1645.0,1125.9 1646.5,1122.5 1648.0,1120.7 1649.5,1125.6 1651.0,1116.7 1652.5,1121.3 1654.0,1118.0 1655.5,1123.5 1657.0,1127.3 1658.5,1125.5 1660.0,1133.5 1661.5,1121.4 1663.0,1126.3 1664.5,1124.0 1666.0,1121.3 1667.5,1120.9 1669.0,1123.0 1670.5,1126.2 1672.0,1122.1 1673.5,1135.9 1675.0,1119.8 1676.5,1121.7 1678.0,1124.4 1679.5,1130.0 1681.0,1124.1 1682.5,1115.6 1684.0,1130.4 1685.5,1130.7 1687.0,1121.7 1688.5,1118.4 1690.0,1125.8 1691.5,1123.9 1693.0,1118.2 1694.5,1120.6 1696.0,1123.3 1697.5,1129.8 1699.0,1129.6 1700.5,1120.6 1702.0,1126.1 1703.5,1123.8 1705.0,1119.1 1706.5,1122.3 1708.0,1121.1 1709.5,1125.9 1711.0,1124.0 1712.5,1125.1 1714.0,1127.3 1715.5,1123.5 1717.0,1120.1 1718.5,1131.6 1720.0,1127.2 1721.5,1131.8 1723.0,1130.1 1724.5,1125.1 1726.0,1114.4 1727.5,1121.9 1729.0,1124.7 1730.5,1129.7 1732.0,1127.9 1733.5,1124.2 1735.0,1122.7 1736.5,1130.9 1738.0,1126.4 1739.5,1119.3 1741.0,1125.9 1742.5,1121.3 1744.0,1121.2 1745.5,1131.1 1747.0,1122.8 1748.5,1119.5 1750.0,1122.7 1751.5,1130.6 1753.0,1126.5 1754.5,1119.4 1756.0,1127.8 1757.5,1129.2 1759.0,1127.2 1760.5,1113.2 1762.0,1113.8 1763.5,1122.3 1765.0,1129.6 1766.5,1132.1 1768.0,1120.7 1769.5,1126.5 1771.0,1119.8 1772.5,1128.0 1774.0,1133.1 1775.5,1125.5 1777.0,1126.5 1778.5,1126.4 1780.0,1122.4 1781.5,1120.8 1783.0,1123.7 1784.5,1126.0 1786.0,1117.3 1787.5,1122.5 1789.0,1127.4 1790.5,1127.3 1792.0,1129.4 1793.5,1121.1 1795.0,1122.5 1796.5,1129.0 1798.0,1121.1 1799.5,1124.7 1801.0,1126.2 1802.5,1120.4 1804.0,1129.6 1805.5,1120.9 1807.0,1123.2 1808.5,1132.1 1810.0,1125.6 1811.5,1120.3 1813.0,1126.3 1814.5,1128.6 1816.0,1130.1 1817.5,1121.5 1819.0,1125.9 1820.5,1129.1 1822.0,1134.2 1823.5,1128.8 1825.0,1131.1 1826.5,1122.5 1828.0,1133.0 1829.5,1126.4 1831.0,1133.6 1832.5,1124.8 1834.0,1122.3 1835.5,1126.3 1837.0,1128.3 1838.5,1132.6 1840.0,1126.2 1841.5,1121.8 1843.0,1130.6 1844.5,1122.3 1846.0,1118.2 1847.5,1130.7 1849.0,1124.3 1850.5,1128.5 1852.0,1125.7 1853.5,1119.2 1855.0,1136.3 1856.5,1133.4 1858.0,1136.4 1859.5,1124.1 1861.0,1126.3 1862.5,1126.9 1864.0,1129.4 1865.5,1129.4 1867.0,1132.5 1868.5,1132.3 1870.0,1126.8 1871.5,1131.1 1873.0,1127.0 1874.5,1130.9 1876.0,1123.8 1877.5,1126.9 1879.0,1139.4 1880.5,1127.1 1882.0,1138.4 1883.5,1124.5 1885.0,1128.7 1886.5,1130.0 1888.0,1131.0 1889.5,1138.4 1891.0,1121.2 1892.5,1116.1 1894.0,1126.2 1895.5,1126.1 1897.0,1129.6 1898.5,1128.4 1900.0,1121.3 1901.5,1124.2 1903.0,1129.6 1904.5,1121.4 1906.0,1127.8 1907.5,1128.3 1909.0,1127.0 1910.5,1120.8 1912.0,1131.6 1913.5,1129.6 1915.0,1134.2 1916.5,1128.8 1918.0,1127.6 1919.5,1128.1 1921.0,1120.3 1922.5,1122.3 1924.0,1129.9 1925.5,1139.2 1927.0,1126.4 1928.5,1123.6 1930.0,1122.6 1931.5,1131.3 1933.0,1115.4 1934.5,1126.9 1936.0,1128.7 1937.5,1128.7 1939.0,1134.9 1940.5,1130.9 1942.0,1124.8 1943.5,1125.3 1945.0,1130.4 1946.5,1121.4 1948.0,1119.9 1949.5,1128.0 1951.0,1132.6 1952.5,1133.5 1954.0,1128.4 1955.5,1125.1 1957.0,1127.8 1958.5,1128.1 1960.0,1131.7 1961.5,1131.8 1963.0,1129.7 1964.5,1134.6 1966.0,1126.6 1967.5,1128.6 1969.0,1127.9 1970.5,1130.1 1972.0,1129.0 1973.5,1131.1 1975.0,1128.4 1976.5,1130.9 1978.0,1129.6 1979.5,1124.6 1981.0,1124.7 1982.5,1128.7 1984.0,1124.5 1985.5,1134.9 1987.0,1134.6 1988.5,1132.3 1990.0,1122.1 1991.5,1132.6 1993.0,1123.9 1994.5,1124.5 1996.0,1117.6 1997.5,1122.2 1999.0,1129.0 2000.5,1127.2 2002.0,1127.0 2003.5,1125.9 2005.0,1135.7 2006.5,1130.0 2008.0,1127.9 2009.5,1124.3 2011.0,1133.3 2012.5,1128.4 2014.0,1129.0 2015.5,1129.7 2017.0,1121.1 2018.5,1132.1 2020.0,1129.2 2021.5,1132.7 2023.0,1132.2 2024.5,1125.7 2026.0,1124.9 2027.5,1131.2 2029.0,1127.9 2030.5,1129.1 2032.0,1130.1 2033.5,1126.5 2035.0,1129.1 2036.5,1131.6 2038.0,1131.2 2039.5,1120.9 2041.0,1127.0 2042.5,1125.3 2044.0,1126.5 2045.5,1133.4 2047.0,1128.5 2048.5,1126.5 2050.0,1129.5 2051.5,1130.7 2053.0,1120.5 2054.5,1128.3 2056.0,1128.4 2057.5,1126.5 2059.0,1121.9 2060.5,1127.2 2062.0,1119.0 2063.5,1115.4 2065.0,1125.9 2066.5,1129.3 2068.0,1126.5 2069.5,1118.5 2071.0,1125.4 2072.5,1124.4 2074.0,1132.2 2075.5,1128.1 2077.0,1132.5 2078.5,1135.1 2080.0,1129.6 2081.5,1125.2 2083.0,1128.1 2084.5,1122.6 2086.0,1132.6 2087.5,1129.7 2089.0,1125.0 2090.5,1124.9 2092.0,1130.4 2093.5,1131.9 2095.0,1133.7 2096.5,1127.6 2098.0,1127.2 2099.5,1129.7 2101.0,1129.2 2102.5,1133.4 2104.0,1124.0 2105.5,1119.1 2107.0,1122.9 2108.5,1125.0 2110.0,1126.5 2111.5,1124.7 2113.0,1116.0 2114.5,1128.3 2116.0,1129.9 2117.5,1128.0 2119.0,1128.7 2120.5,1120.6 2122.0,1124.1 2123.5,1133.0 2125.0,1131.4 2126.5,1117.3 2128.0,1124.4 2129.5,1116.0 2131.0,1129.0 2132.5,1128.4 2134.0,1125.6 2135.5,1123.5 2137.0,1125.3 2138.5,1125.7 2140.0,1131.5 2141.5,1121.3 2143.0,1127.6 2144.5,1113.8 2146.0,1131.3 2147.5,1123.0 2149.0,1132.8 2150.5,1132.8 2152.0,1126.4 2153.5,1124.0 2155.0,1128.1 2156.5,1131.8 2158.0,1125.5 2159.5,1125.8 2161.0,1128.9 2162.5,1124.9 2164.0,1123.8 2165.5,1130.6 2167.0,1121.9 2168.5,1128.4 2170.0,1134.0 2171.5,1126.1" fill="none" stroke="#e8336f" stroke-width="1.8" stroke-linejoin="miter"/>
<path d="M296.0,1344.5 297.5,1335.8 299.0,1331.0 300.5,1330.1 302.0,1335.3 303.5,1323.6 305.0,1336.1 306.5,1336.9 308.0,1324.4 309.5,1329.8 311.0,1325.2 312.5,1331.1 314.0,1326.3 315.5,1320.3 317.0,1333.7 318.5,1333.1 320.0,1339.6 321.5,1334.2 323.0,1340.0 324.5,1336.4 326.0,1343.2 327.5,1344.1 329.0,1328.1 330.5,1337.4 332.0,1343.1 333.5,1346.2 335.0,1346.0 336.5,1338.2 338.0,1341.7 339.5,1337.8 341.0,1345.9 342.5,1346.5 344.0,1342.5 345.5,1351.5 347.0,1341.6 348.5,1358.3 350.0,1339.2 351.5,1342.4 353.0,1334.8 354.5,1348.1 356.0,1338.2 357.5,1342.8 359.0,1334.0 360.5,1330.7 362.0,1336.3 363.5,1338.6 365.0,1326.7 366.5,1329.4 368.0,1332.3 369.5,1324.4 371.0,1322.5 372.5,1319.2 374.0,1326.7 375.5,1316.0 377.0,1313.3 378.5,1311.3 380.0,1321.2 381.5,1319.4 383.0,1320.1 384.5,1329.7 386.0,1326.7 387.5,1307.8 389.0,1322.2 390.5,1326.4 392.0,1314.2 393.5,1297.5 395.0,1319.9 396.5,1307.2 398.0,1311.2 399.5,1333.2 401.0,1309.2 402.5,1316.2 404.0,1323.4 405.5,1312.8 407.0,1318.5 408.5,1309.5 410.0,1313.6 411.5,1309.7 413.0,1315.6 414.5,1307.8 416.0,1318.4 417.5,1320.2 419.0,1322.2 420.5,1319.3 422.0,1306.1 423.5,1318.0 425.0,1315.4 426.5,1305.8 428.0,1331.1 429.5,1340.7 431.0,1323.8 432.5,1322.9 434.0,1316.7 435.5,1324.1 437.0,1324.1 438.5,1325.3 440.0,1321.1 441.5,1327.6 443.0,1329.7 444.5,1322.4 446.0,1325.8 447.5,1328.4 449.0,1322.5 450.5,1328.1 452.0,1333.7 453.5,1314.4 455.0,1312.4 456.5,1330.1 458.0,1326.4 459.5,1326.1 461.0,1326.7 462.5,1319.9 464.0,1325.5 465.5,1323.3 467.0,1324.9 468.5,1322.0 470.0,1333.5 471.5,1322.6 473.0,1328.4 474.5,1326.0 476.0,1325.6 477.5,1326.5 479.0,1330.6 480.5,1319.6 482.0,1342.0 483.5,1316.7 485.0,1335.5 486.5,1328.8 488.0,1321.5 489.5,1337.3 491.0,1325.7 492.5,1325.0 494.0,1344.3 495.5,1329.4 497.0,1335.6 498.5,1335.9 500.0,1320.7 501.5,1329.2 503.0,1346.4 504.5,1327.3 506.0,1318.0 507.5,1329.9 509.0,1326.3 510.5,1324.0 512.0,1330.3 513.5,1325.6 515.0,1331.9 516.5,1339.8 518.0,1334.1 519.5,1329.3 521.0,1323.7 522.5,1338.4 524.0,1329.3 525.5,1329.5 527.0,1327.3 528.5,1325.1 530.0,1328.7 531.5,1337.9 533.0,1331.7 534.5,1335.7 536.0,1315.9 537.5,1332.1 539.0,1335.4 540.5,1336.9 542.0,1332.8 543.5,1328.7 545.0,1335.8 546.5,1344.3 548.0,1337.1 549.5,1336.1 551.0,1355.6 552.5,1338.3 554.0,1326.1 555.5,1348.3 557.0,1333.5 558.5,1341.1 560.0,1337.8 561.5,1344.3 563.0,1340.2 564.5,1332.4 566.0,1330.3 567.5,1341.4 569.0,1337.5 570.5,1327.8 572.0,1321.8 573.5,1338.0 575.0,1341.8 576.5,1335.8 578.0,1333.6 579.5,1333.3 581.0,1337.0 582.5,1334.7 584.0,1333.8 585.5,1331.5 587.0,1336.4 588.5,1340.8 590.0,1327.5 591.5,1338.7 593.0,1335.6 594.5,1332.5 596.0,1333.7 597.5,1334.3 599.0,1328.1 600.5,1325.8 602.0,1319.4 603.5,1327.7 605.0,1336.0 606.5,1326.0 608.0,1328.9 609.5,1341.3 611.0,1334.4 612.5,1328.1 614.0,1326.3 615.5,1316.8 617.0,1334.8 618.5,1335.2 620.0,1333.8 621.5,1322.9 623.0,1324.5 624.5,1320.7 626.0,1322.3 627.5,1340.5 629.0,1318.0 630.5,1329.7 632.0,1333.2 633.5,1321.5 635.0,1324.6 636.5,1327.9 638.0,1327.2 639.5,1328.2 641.0,1326.9 642.5,1332.4 644.0,1326.4 645.5,1327.1 647.0,1326.2 648.5,1312.1 650.0,1322.5 651.5,1328.5 653.0,1328.5 654.5,1323.4 656.0,1331.6 657.5,1319.1 659.0,1324.8 660.5,1334.0 662.0,1328.0 663.5,1323.7 665.0,1321.6 666.5,1319.8 668.0,1318.1 669.5,1323.0 671.0,1326.3 672.5,1324.4 674.0,1323.5 675.5,1324.9 677.0,1322.5 678.5,1326.0 680.0,1311.1 681.5,1320.3 683.0,1311.0 684.5,1309.1 686.0,1324.0 687.5,1327.3 689.0,1325.8 690.5,1318.9 692.0,1329.2 693.5,1312.9 695.0,1313.7 696.5,1317.2 698.0,1315.4 699.5,1321.6 701.0,1303.2 702.5,1322.3 704.0,1310.5 705.5,1318.7 707.0,1327.7 708.5,1309.6 710.0,1317.1 711.5,1307.4 713.0,1316.1 714.5,1319.7 716.0,1309.4 717.5,1302.2 719.0,1301.0 720.5,1313.2 722.0,1304.2 723.5,1310.1 725.0,1306.1 726.5,1308.1 728.0,1301.0 729.5,1301.1 731.0,1283.5 732.5,1305.9 734.0,1302.1 735.5,1310.7 737.0,1302.2 738.5,1316.6 740.0,1302.7 741.5,1310.2 743.0,1303.7 744.5,1301.5 746.0,1305.6 747.5,1302.0 749.0,1299.7 750.5,1308.6 752.0,1299.5 753.5,1307.4 755.0,1308.7 756.5,1312.3 758.0,1296.3 759.5,1297.3 761.0,1300.6 762.5,1320.7 764.0,1304.2 765.5,1303.2 767.0,1301.8 768.5,1328.1 770.0,1311.3 771.5,1310.9 773.0,1299.0 774.5,1315.4 776.0,1309.0 777.5,1314.7 779.0,1316.0 780.5,1318.2 782.0,1317.6 783.5,1308.7 785.0,1320.0 786.5,1309.7 788.0,1318.6 789.5,1313.3 791.0,1298.9 792.5,1304.7 794.0,1318.9 795.5,1311.3 797.0,1306.6 798.5,1322.6 800.0,1314.2 801.5,1311.1 803.0,1312.3 804.5,1304.9 806.0,1311.4 807.5,1305.8 809.0,1308.5 810.5,1304.7 812.0,1310.6 813.5,1312.6 815.0,1315.9 816.5,1323.4 818.0,1306.6 819.5,1317.9 821.0,1314.5 822.5,1308.8 824.0,1312.8 825.5,1302.3 827.0,1315.6 828.5,1308.1 830.0,1322.5 831.5,1311.8 833.0,1298.0 834.5,1319.0 836.0,1314.9 837.5,1317.5 839.0,1319.4 840.5,1310.9 842.0,1309.8 843.5,1315.5 845.0,1307.9 846.5,1312.4 848.0,1312.8 849.5,1303.2 851.0,1307.4 852.5,1308.0 854.0,1298.3 855.5,1309.2 857.0,1311.5 858.5,1307.2 860.0,1317.5 861.5,1302.5 863.0,1302.2 864.5,1311.1 866.0,1303.2 867.5,1317.8 869.0,1314.7 870.5,1300.2 872.0,1305.0 873.5,1308.3 875.0,1316.0 876.5,1309.1 878.0,1309.1 879.5,1320.0 881.0,1325.7 882.5,1314.0 884.0,1324.6 885.5,1321.7 887.0,1298.9 888.5,1312.1 890.0,1312.1 891.5,1310.8 893.0,1306.9 894.5,1308.7 896.0,1306.7 897.5,1308.0 899.0,1304.5 900.5,1296.7 902.0,1303.6 903.5,1298.7 905.0,1297.5 906.5,1299.2 908.0,1302.3 909.5,1292.9 911.0,1301.3 912.5,1298.8 914.0,1297.4 915.5,1297.2 917.0,1296.9 918.5,1297.5 920.0,1300.2 921.5,1292.0 923.0,1297.2 924.5,1290.2 926.0,1299.3 927.5,1297.8 929.0,1291.1 930.5,1294.4 932.0,1289.4 933.5,1298.8 935.0,1294.5 936.5,1294.2 938.0,1299.7 939.5,1290.3 941.0,1290.6 942.5,1288.1 944.0,1288.5 945.5,1294.9 947.0,1288.9 948.5,1287.8 950.0,1284.9 951.5,1278.1 953.0,1285.4 954.5,1267.3 956.0,1278.5 957.5,1279.7 959.0,1283.9 960.5,1274.1 962.0,1275.8 963.5,1272.0 965.0,1260.5 966.5,1270.5 968.0,1266.9 969.5,1265.4 971.0,1264.5 972.5,1281.6 974.0,1272.2 975.5,1263.5 977.0,1253.0 978.5,1265.9 980.0,1259.3 981.5,1263.8 983.0,1261.1 984.5,1252.0 986.0,1260.4 987.5,1255.5 989.0,1254.9 990.5,1252.5 992.0,1248.9 993.5,1256.0 995.0,1249.8 996.5,1255.7 998.0,1247.2 999.5,1259.2 1001.0,1243.2 1002.5,1245.3 1004.0,1238.6 1005.5,1241.3 1007.0,1234.4 1008.5,1259.6 1010.0,1245.7 1011.5,1244.5 1013.0,1233.7 1014.5,1238.8 1016.0,1246.5 1017.5,1239.2 1019.0,1241.1 1020.5,1233.6 1022.0,1238.0 1023.5,1244.9 1025.0,1229.7 1026.5,1234.2 1028.0,1232.0 1029.5,1231.3 1031.0,1228.0 1032.5,1229.2 1034.0,1227.1 1035.5,1229.0 1037.0,1239.6 1038.5,1241.5 1040.0,1232.0 1041.5,1235.3 1043.0,1232.5 1044.5,1231.2 1046.0,1234.5 1047.5,1225.2 1049.0,1233.4 1050.5,1241.7 1052.0,1231.6 1053.5,1241.0 1055.0,1239.3 1056.5,1248.6 1058.0,1240.2 1059.5,1248.2 1061.0,1248.5 1062.5,1258.6 1064.0,1252.3 1065.5,1254.0 1067.0,1242.2 1068.5,1260.1 1070.0,1260.3 1071.5,1251.7 1073.0,1264.5 1074.5,1269.2 1076.0,1264.5 1077.5,1271.9 1079.0,1275.4 1080.5,1279.2 1082.0,1280.8 1083.5,1280.7 1085.0,1288.9 1086.5,1296.9 1088.0,1297.8 1089.5,1300.8 1091.0,1310.3 1092.5,1306.6 1094.0,1318.3 1095.5,1321.9 1097.0,1315.2 1098.5,1318.4 1100.0,1328.6 1101.5,1327.4 1103.0,1331.0 1104.5,1341.8 1106.0,1342.1 1107.5,1345.6 1109.0,1351.9 1110.5,1343.9 1112.0,1354.3 1113.5,1349.7 1115.0,1350.0 1116.5,1354.5 1118.0,1341.7 1119.5,1351.3 1121.0,1350.2 1122.5,1339.8 1124.0,1352.9 1125.5,1356.7 1127.0,1348.7 1128.5,1341.1 1130.0,1356.0 1131.5,1341.0 1133.0,1347.7 1134.5,1346.0 1136.0,1350.1 1137.5,1358.9 1139.0,1339.8 1140.5,1342.7 1142.0,1356.0 1143.5,1352.8 1145.0,1359.7 1146.5,1350.4 1148.0,1355.6 1149.5,1341.0 1151.0,1353.1 1152.5,1349.6 1154.0,1342.0 1155.5,1345.5 1157.0,1343.9 1158.5,1353.0 1160.0,1350.5 1161.5,1362.8 1163.0,1348.0 1164.5,1353.8 1166.0,1342.5 1167.5,1356.6 1169.0,1353.7 1170.5,1355.5 1172.0,1365.2 1173.5,1357.3 1175.0,1362.9 1176.5,1348.4 1178.0,1359.6 1179.5,1346.6 1181.0,1356.9 1182.5,1349.6 1184.0,1372.1 1185.5,1354.6 1187.0,1361.0 1188.5,1348.8 1190.0,1355.4 1191.5,1353.6 1193.0,1357.1 1194.5,1357.5 1196.0,1342.7 1197.5,1348.0 1199.0,1354.6 1200.5,1352.8 1202.0,1349.2 1203.5,1342.6 1205.0,1345.2 1206.5,1350.9 1208.0,1350.9 1209.5,1355.4 1211.0,1344.4 1212.5,1354.8 1214.0,1342.3 1215.5,1344.4 1217.0,1350.1 1218.5,1347.6 1220.0,1346.0 1221.5,1347.1 1223.0,1342.4 1224.5,1350.1 1226.0,1350.5 1227.5,1368.2 1229.0,1352.1 1230.5,1358.1 1232.0,1357.9 1233.5,1365.7 1235.0,1369.8 1236.5,1363.5 1238.0,1354.7 1239.5,1356.7 1241.0,1364.6 1242.5,1365.4 1244.0,1361.9 1245.5,1356.4 1247.0,1365.1 1248.5,1351.2 1250.0,1363.1 1251.5,1353.3 1253.0,1362.0 1254.5,1343.2 1256.0,1365.9 1257.5,1353.1 1259.0,1365.2 1260.5,1358.9 1262.0,1355.9 1263.5,1356.1 1265.0,1361.7 1266.5,1368.8 1268.0,1367.0 1269.5,1374.0 1271.0,1372.6 1272.5,1369.7 1274.0,1372.0 1275.5,1382.5 1277.0,1376.0 1278.5,1382.6 1280.0,1382.6 1281.5,1384.7 1283.0,1383.5 1284.5,1389.2 1286.0,1380.2 1287.5,1385.9 1289.0,1380.0 1290.5,1375.4 1292.0,1390.0 1293.5,1394.5 1295.0,1388.8 1296.5,1387.0 1298.0,1385.3 1299.5,1407.0 1301.0,1394.9 1302.5,1397.6 1304.0,1383.4 1305.5,1396.4 1307.0,1380.6 1308.5,1394.9 1310.0,1387.0 1311.5,1394.0 1313.0,1380.7 1314.5,1385.3 1316.0,1382.0 1317.5,1377.0 1319.0,1375.7 1320.5,1378.8 1322.0,1374.8 1323.5,1374.1 1325.0,1378.4 1326.5,1386.4 1328.0,1371.0 1329.5,1369.5 1331.0,1369.1 1332.5,1380.1 1334.0,1384.0 1335.5,1373.8 1337.0,1385.5 1338.5,1376.7 1340.0,1373.0 1341.5,1373.9 1343.0,1381.1 1344.5,1375.9 1346.0,1368.0 1347.5,1380.6 1349.0,1359.0 1350.5,1368.3 1352.0,1361.2 1353.5,1360.5 1355.0,1360.5 1356.5,1361.0 1358.0,1349.1 1359.5,1356.2 1361.0,1348.2 1362.5,1344.5 1364.0,1347.3 1365.5,1340.4 1367.0,1346.4 1368.5,1339.3 1370.0,1342.7 1371.5,1352.6 1373.0,1331.8 1374.5,1337.1 1376.0,1326.7 1377.5,1331.4 1379.0,1329.8 1380.5,1322.0 1382.0,1330.7 1383.5,1325.9 1385.0,1330.8 1386.5,1309.0 1388.0,1318.0 1389.5,1314.6 1391.0,1319.4 1392.5,1317.5 1394.0,1322.7 1395.5,1315.6 1397.0,1315.7 1398.5,1305.4 1400.0,1315.0 1401.5,1312.2 1403.0,1305.6 1404.5,1311.6 1406.0,1314.2 1407.5,1313.3 1409.0,1309.7 1410.5,1309.2 1412.0,1314.6 1413.5,1301.0 1415.0,1294.4 1416.5,1294.4 1418.0,1296.3 1419.5,1296.0 1421.0,1293.0 1422.5,1284.5 1424.0,1290.1 1425.5,1276.8 1427.0,1279.9 1428.5,1269.8 1430.0,1268.5 1431.5,1261.1 1433.0,1269.3 1434.5,1267.1 1436.0,1268.5 1437.5,1258.5 1439.0,1262.6 1440.5,1254.8 1442.0,1248.4 1443.5,1248.8 1445.0,1240.3 1446.5,1241.0 1448.0,1234.3 1449.5,1236.1 1451.0,1226.8 1452.5,1225.3 1454.0,1221.7 1455.5,1215.8 1457.0,1218.2 1458.5,1210.2 1460.0,1206.9 1461.5,1204.1 1463.0,1204.0 1464.5,1202.9 1466.0,1198.9 1467.5,1200.2 1469.0,1195.8 1470.5,1197.5 1472.0,1197.2 1473.5,1201.5 1475.0,1199.5 1476.5,1211.0 1478.0,1202.3 1479.5,1200.1 1481.0,1215.7 1482.5,1196.0 1484.0,1201.6 1485.5,1199.8 1487.0,1199.0 1488.5,1199.8 1490.0,1199.0 1491.5,1196.2 1493.0,1200.9 1494.5,1191.3 1496.0,1199.9 1497.5,1207.5 1499.0,1214.4 1500.5,1217.8 1502.0,1226.9 1503.5,1228.3 1505.0,1225.2 1506.5,1229.5 1508.0,1233.6 1509.5,1229.0 1511.0,1233.7 1512.5,1240.2 1514.0,1242.9 1515.5,1250.6 1517.0,1258.3 1518.5,1266.7 1520.0,1269.9 1521.5,1276.8 1523.0,1287.2 1524.5,1297.1 1526.0,1306.2 1527.5,1322.8 1529.0,1336.0 1530.5,1347.5 1532.0,1360.3 1533.5,1374.0 1535.0,1387.3 1536.5,1399.6 1538.0,1411.4 1539.5,1423.5 1541.0,1443.5 1542.5,1453.8 1544.0,1461.6 1545.5,1470.4 1547.0,1481.1 1548.5,1485.9 1550.0,1492.4 1551.5,1496.5 1553.0,1501.6 1554.5,1505.6 1556.0,1507.4 1557.5,1512.9 1559.0,1518.3 1560.5,1519.8 1562.0,1523.6 1563.5,1524.3 1565.0,1523.0 1566.5,1527.7 1568.0,1525.9 1569.5,1529.4 1571.0,1535.1 1572.5,1531.0 1574.0,1538.4 1575.5,1537.6 1577.0,1543.2 1578.5,1546.3 1580.0,1534.1 1581.5,1537.9 1583.0,1535.5 1584.5,1540.6 1586.0,1539.7 1587.5,1540.8 1589.0,1541.0 1590.5,1543.0 1592.0,1546.4 1593.5,1535.6 1595.0,1538.6 1596.5,1548.0 1598.0,1542.9 1599.5,1541.7 1601.0,1548.6 1602.5,1540.3 1604.0,1548.1 1605.5,1542.0 1607.0,1542.9 1608.5,1534.5 1610.0,1543.4 1611.5,1545.5 1613.0,1545.1 1614.5,1551.4 1616.0,1534.4 1617.5,1549.3 1619.0,1543.1 1620.5,1544.6 1622.0,1550.2 1623.5,1548.5 1625.0,1545.6 1626.5,1545.5 1628.0,1542.4 1629.5,1546.7 1631.0,1551.4 1632.5,1544.3 1634.0,1548.5 1635.5,1549.1 1637.0,1551.0 1638.5,1544.7 1640.0,1547.1 1641.5,1541.9 1643.0,1544.5 1644.5,1548.1 1646.0,1549.0 1647.5,1554.5 1649.0,1548.9 1650.5,1545.9 1652.0,1548.3 1653.5,1550.8 1655.0,1548.4 1656.5,1552.6 1658.0,1551.2 1659.5,1549.5 1661.0,1550.5 1662.5,1554.2 1664.0,1539.6 1665.5,1553.3 1667.0,1552.9 1668.5,1546.8 1670.0,1563.2 1671.5,1556.4 1673.0,1552.6 1674.5,1547.1 1676.0,1547.4 1677.5,1554.2 1679.0,1560.1 1680.5,1553.8 1682.0,1554.0 1683.5,1550.0 1685.0,1563.0 1686.5,1551.1 1688.0,1545.8 1689.5,1549.6 1691.0,1549.9 1692.5,1553.5 1694.0,1556.2 1695.5,1553.2 1697.0,1552.4 1698.5,1550.7 1700.0,1554.4 1701.5,1551.5 1703.0,1555.9 1704.5,1546.3 1706.0,1558.0 1707.5,1550.7 1709.0,1557.7 1710.5,1546.5 1712.0,1554.2 1713.5,1551.4 1715.0,1554.1 1716.5,1552.1 1718.0,1553.8 1719.5,1550.8 1721.0,1549.0 1722.5,1559.3 1724.0,1561.4 1725.5,1550.7 1727.0,1551.9 1728.5,1564.6 1730.0,1551.8 1731.5,1557.2 1733.0,1556.6 1734.5,1554.5 1736.0,1562.3 1737.5,1559.2 1739.0,1548.2 1740.5,1549.0 1742.0,1555.1 1743.5,1546.7 1745.0,1555.9 1746.5,1552.1 1748.0,1548.7 1749.5,1554.5 1751.0,1550.1 1752.5,1550.8 1754.0,1552.3 1755.5,1552.0 1757.0,1552.2 1758.5,1556.9 1760.0,1544.3 1761.5,1546.9 1763.0,1547.4 1764.5,1556.8 1766.0,1556.1 1767.5,1549.4 1769.0,1552.4 1770.5,1549.7 1772.0,1550.5 1773.5,1546.0 1775.0,1545.4 1776.5,1551.6 1778.0,1550.7 1779.5,1554.5 1781.0,1549.4 1782.5,1553.4 1784.0,1553.5 1785.5,1553.4 1787.0,1552.5 1788.5,1554.6 1790.0,1546.6 1791.5,1540.4 1793.0,1547.9 1794.5,1551.6 1796.0,1551.3 1797.5,1550.9 1799.0,1547.4 1800.5,1558.1 1802.0,1555.6 1803.5,1555.8 1805.0,1548.5 1806.5,1552.4 1808.0,1558.5 1809.5,1551.8 1811.0,1556.9 1812.5,1557.4 1814.0,1547.5 1815.5,1554.2 1817.0,1549.4 1818.5,1553.3 1820.0,1559.7 1821.5,1553.7 1823.0,1556.0 1824.5,1552.2 1826.0,1559.8 1827.5,1552.8 1829.0,1566.6 1830.5,1559.7 1832.0,1555.4 1833.5,1559.3 1835.0,1550.6 1836.5,1556.6 1838.0,1551.1 1839.5,1552.5 1841.0,1555.8 1842.5,1557.6 1844.0,1554.8 1845.5,1558.0 1847.0,1556.3 1848.5,1541.9 1850.0,1557.0 1851.5,1561.1 1853.0,1550.1 1854.5,1555.4 1856.0,1556.7 1857.5,1554.0 1859.0,1551.2 1860.5,1550.6 1862.0,1555.1 1863.5,1554.2 1865.0,1552.7 1866.5,1551.4 1868.0,1552.9 1869.5,1556.6 1871.0,1553.3 1872.5,1552.1 1874.0,1546.7 1875.5,1567.4 1877.0,1554.6 1878.5,1554.9 1880.0,1559.6 1881.5,1553.7 1883.0,1558.5 1884.5,1559.1 1886.0,1567.0 1887.5,1552.8 1889.0,1552.3 1890.5,1560.8 1892.0,1555.0 1893.5,1548.5 1895.0,1558.0 1896.5,1556.4 1898.0,1557.6 1899.5,1554.4 1901.0,1555.7 1902.5,1550.4 1904.0,1555.3 1905.5,1560.9 1907.0,1558.3 1908.5,1566.0 1910.0,1560.6 1911.5,1559.5 1913.0,1554.8 1914.5,1556.4 1916.0,1556.9 1917.5,1558.4 1919.0,1549.3 1920.5,1552.5 1922.0,1555.9 1923.5,1550.8 1925.0,1561.1 1926.5,1552.8 1928.0,1558.2 1929.5,1548.6 1931.0,1554.2 1932.5,1551.0 1934.0,1554.6 1935.5,1560.9 1937.0,1555.2 1938.5,1549.9 1940.0,1555.1 1941.5,1551.1 1943.0,1558.5 1944.5,1554.6 1946.0,1557.7 1947.5,1556.5 1949.0,1556.3 1950.5,1553.1 1952.0,1553.8 1953.5,1560.0 1955.0,1555.1 1956.5,1554.0 1958.0,1554.7 1959.5,1555.5 1961.0,1552.4 1962.5,1554.4 1964.0,1549.4 1965.5,1554.7 1967.0,1554.9 1968.5,1556.0 1970.0,1558.4 1971.5,1545.6 1973.0,1548.6 1974.5,1556.8 1976.0,1557.5 1977.5,1556.9 1979.0,1557.2 1980.5,1551.5 1982.0,1558.2 1983.5,1557.6 1985.0,1554.0 1986.5,1552.9 1988.0,1549.1 1989.5,1553.1 1991.0,1550.3 1992.5,1558.0 1994.0,1552.1 1995.5,1554.7 1997.0,1552.7 1998.5,1553.9 2000.0,1556.7 2001.5,1555.9 2003.0,1567.6 2004.5,1559.3 2006.0,1552.3 2007.5,1555.1 2009.0,1549.9 2010.5,1551.0 2012.0,1558.1 2013.5,1554.6 2015.0,1557.0 2016.5,1556.6 2018.0,1548.4 2019.5,1555.9 2021.0,1556.0 2022.5,1555.0 2024.0,1551.2 2025.5,1559.6 2027.0,1551.6 2028.5,1557.5 2030.0,1556.0 2031.5,1562.2 2033.0,1554.9 2034.5,1557.5 2036.0,1551.4 2037.5,1552.5 2039.0,1548.4 2040.5,1562.6 2042.0,1555.7 2043.5,1556.8 2045.0,1554.0 2046.5,1556.4 2048.0,1558.2 2049.5,1557.8 2051.0,1552.6 2052.5,1553.6 2054.0,1552.7 2055.5,1554.7 2057.0,1558.6 2058.5,1554.9 2060.0,1553.9 2061.5,1555.0 2063.0,1551.2 2064.5,1555.1 2066.0,1553.1 2067.5,1558.6 2069.0,1555.1 2070.5,1554.1 2072.0,1552.0 2073.5,1558.1 2075.0,1557.7 2076.5,1549.6 2078.0,1556.0 2079.5,1549.1 2081.0,1558.4 2082.5,1551.5 2084.0,1560.0 2085.5,1550.8 2087.0,1567.6 2088.5,1549.6 2090.0,1553.4 2091.5,1556.8 2093.0,1557.2 2094.5,1551.6 2096.0,1559.1 2097.5,1559.5 2099.0,1549.3 2100.5,1547.6 2102.0,1552.0 2103.5,1561.7 2105.0,1553.7 2106.5,1555.7 2108.0,1555.8 2109.5,1549.3 2111.0,1563.7 2112.5,1542.4 2114.0,1551.3 2115.5,1560.1 2117.0,1551.8 2118.5,1559.1 2120.0,1557.1 2121.5,1549.8 2123.0,1549.3 2124.5,1550.2 2126.0,1559.1 2127.5,1558.4 2129.0,1559.1 2130.5,1561.8 2132.0,1544.0 2133.5,1556.7 2135.0,1554.3 2136.5,1554.4 2138.0,1550.4 2139.5,1556.5 2141.0,1556.6 2142.5,1556.3 2144.0,1551.2 2145.5,1548.8 2147.0,1553.6 2148.5,1551.2 2150.0,1549.2 2151.5,1552.2 2153.0,1552.7 2154.5,1551.1 2156.0,1547.5 2157.5,1550.4 2159.0,1557.8 2160.5,1554.6 2162.0,1557.6 2163.5,1558.9 2165.0,1541.9 2166.5,1548.4 2168.0,1551.9 2169.5,1558.3 2171.0,1557.6" fill="none" stroke="#ffab0b" stroke-width="1.8" stroke-linejoin="miter"/>
<text x="1093.5" y="88.3" font-size="76" fill="#000" letter-spacing="-0.18">718.5 eV</text>
<text x="901.0" y="188.8" font-size="76" fill="#000" letter-spacing="-0.36">724.2 eV</text>
<text x="1349.0" y="184.4" font-size="76" fill="#000" letter-spacing="-0.39">710.9 eV</text>
<text x="848.0" y="1891.0" font-size="77" fill="#000" letter-spacing="-0.56">Binding energy [eV]</text>
<text transform="translate(2034.20,630.50) scale(0.9467,1)" font-size="63" fill="#800080">8</text>
<text transform="translate(2085.10,630.50) scale(0.9322,1)" font-size="63" fill="#800080">Pa</text>
<text transform="translate(1990.20,1058.80) scale(0.9927,1)" font-size="63" fill="#a01a6a">6.5</text>
<text transform="translate(2094.30,1058.80) scale(0.9239,1)" font-size="63" fill="#a01a6a">Pa</text>
<text transform="translate(2033.40,1496.80) scale(0.9604,1)" font-size="63" fill="#f8ae14">5</text>
<text transform="translate(2084.30,1496.30) scale(0.9239,1)" font-size="63" fill="#f8ae14">Pa</text>
<text transform="translate(82.3,1006.0) rotate(-90)" font-size="77" fill="#000" letter-spacing="-1.62">Cps</text>
<text x="134.8" y="1774.1" font-size="61" fill="#000" letter-spacing="0.45">750</text>
<text x="465.8" y="1774.1" font-size="61" fill="#000" letter-spacing="0.90">740</text>
<text x="796.7" y="1774.1" font-size="61" fill="#000" letter-spacing="0.90">730</text>
<text x="1127.8" y="1774.1" font-size="61" fill="#000" letter-spacing="0.90">720</text>
<text x="1458.8" y="1774.1" font-size="61" fill="#000" letter-spacing="0.90">710</text>
<text x="1790.7" y="1774.1" font-size="61" fill="#000" letter-spacing="0.45">700</text>
<text x="2121.7" y="1774.1" font-size="61" fill="#000" letter-spacing="0.90">690</text>
</svg>
</body></html>
